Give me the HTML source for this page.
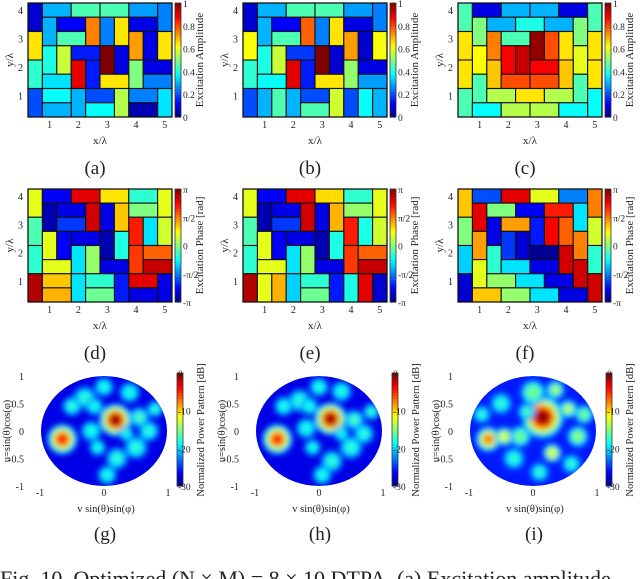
<!DOCTYPE html>
<html><head><meta charset="utf-8"><style>
html,body{margin:0;padding:0;background:#fff;width:640px;height:579px;overflow:hidden}
svg{display:block;font-family:"Liberation Serif",serif}
</style></head><body>
<svg id="fig" width="640" height="579" viewBox="0 0 640 579" xmlns="http://www.w3.org/2000/svg">
<defs><filter id="bl" x="-50%" y="-50%" width="200%" height="200%"><feGaussianBlur stdDeviation="3"/></filter></defs>
</svg>
<script>
// ---- data ----
const ampA=[[0,0,'v',0.08],[1,0,'h',0.3],[3,0,'h',0.45],[5,0,'h',0.45],[7,0,'h',0.28],[9,0,'v',0.25],
[1,1,'v',0.3],[2,1,'h',0.12],[4,1,'v',0.75],[5,1,'v',0.25],[6,1,'v',0.65],[7,1,'h',0.1],
[0,2,'v',0.65],[2,2,'h',0.45],[7,2,'v',0.72],[8,2,'v',0.1],[9,2,'v',0.65],
[1,3,'v',0.4],[2,3,'v',0.57],[3,3,'h',0.15],[5,3,'v',1.0],[6,3,'v',0.1],
[0,4,'v',0.42],[3,4,'v',0.9],[4,4,'v',0.15],[7,4,'v',0.5],[8,4,'h',0.1],
[1,5,'h',0.35],[5,5,'h',0.65],[8,5,'h',0.25],
[0,6,'v',0.2],[1,6,'h',0.38],[3,6,'v',0.3],[4,6,'h',0.2],[6,6,'v',0.55],[7,6,'h',0.25],[9,6,'v',0.35],
[1,7,'h',0.3],[4,7,'h',0.38],[7,7,'h',0.05]];
const ampB=[[0,0,'v',0.08],[1,0,'h',0.3],[3,0,'h',0.45],[5,0,'h',0.45],[7,0,'h',0.28],[9,0,'v',0.25],
[1,1,'v',0.3],[2,1,'h',0.12],[4,1,'v',0.78],[5,1,'v',0.25],[6,1,'v',0.65],[7,1,'h',0.1],
[0,2,'v',0.62],[2,2,'h',0.45],[7,2,'v',0.72],[8,2,'v',0.08],[9,2,'v',0.62],
[1,3,'v',0.4],[2,3,'v',0.57],[3,3,'h',0.18],[5,3,'v',1.0],[6,3,'v',0.08],
[0,4,'v',0.42],[3,4,'v',0.9],[4,4,'v',0.15],[7,4,'v',0.52],[8,4,'h',0.1],
[1,5,'h',0.38],[5,5,'h',0.65],[8,5,'h',0.28],
[0,6,'v',0.2],[1,6,'v',0.3],[2,6,'v',0.45],[3,6,'v',0.3],[4,6,'h',0.2],[4,7,'h',0.45],[6,6,'v',0.58],[7,6,'v',0.2],[8,6,'v',0.38],[9,6,'v',0.3]];
const ampC=[[0,0,'v',0.45],[1,0,'h',0.1],[3,0,'h',0.3],[5,0,'h',0.3],[7,0,'h',0.1],[9,0,'v',0.45],
[1,1,'v',0.5],[2,1,'h',0.3],[4,1,'h',0.4],[6,1,'h',0.3],[8,1,'v',0.5],
[0,2,'v',0.65],[2,2,'v',0.75],[3,2,'h',0.45],[5,2,'v',0.98],[6,2,'v',0.8],[7,2,'v',0.65],[9,2,'v',0.65],
[1,3,'v',0.62],[3,3,'v',0.88],[4,3,'v',0.93],[8,3,'v',0.6],
[0,4,'v',0.65],[2,4,'v',0.68],[5,4,'h',0.88],[7,4,'v',0.68],[9,4,'v',0.65],
[1,5,'v',0.45],[3,5,'h',0.8],[5,5,'h',0.8],[8,5,'v',0.45],
[0,6,'v',0.45],[2,6,'h',0.55],[4,6,'h',0.65],[6,6,'h',0.55],[9,6,'v',0.38],
[1,7,'h',0.38],[3,7,'h',0.55],[5,7,'h',0.55],[7,7,'h',0.38]];
const phD=[[0,0,'v',0.6],[1,0,'h',0.12],[3,0,'h',0.9],[5,0,'h',0.65],[7,0,'h',0.42],[9,0,'v',0.6],
[1,1,'v',0.05],[2,1,'h',0.1],[4,1,'v',0.92],[5,1,'v',0.1],[6,1,'v',0.68],[7,1,'h',0.5],
[0,2,'v',0.45],[2,2,'h',0.18],[7,2,'v',0.85],[8,2,'v',0.35],[9,2,'v',0.58],
[1,3,'v',0.6],[2,3,'v',0.12],[3,3,'h',0.1],[5,3,'v',0.05],[6,3,'v',0.4],
[0,4,'v',0.42],[3,4,'v',0.35],[4,4,'v',0.52],[7,4,'v',0.82],[8,4,'h',0.78],
[1,5,'h',0.6],[5,5,'h',0.1],[8,5,'h',0.93],
[0,6,'v',0.95],[1,6,'h',0.68],[3,6,'v',0.35],[4,6,'h',0.42],[6,6,'v',0.15],[7,6,'h',0.9],[9,6,'v',0.1],
[1,7,'h',0.7],[4,7,'h',0.48],[7,7,'h',0.1]];
const phE=[[0,0,'v',0.6],[1,0,'h',0.12],[3,0,'h',0.9],[5,0,'h',0.66],[7,0,'h',0.42],[9,0,'v',0.6],
[1,1,'v',0.05],[2,1,'h',0.1],[4,1,'v',0.92],[5,1,'v',0.1],[6,1,'v',0.7],[7,1,'h',0.52],
[0,2,'v',0.45],[2,2,'h',0.18],[7,2,'v',0.85],[8,2,'v',0.4],[9,2,'v',0.58],
[1,3,'v',0.6],[2,3,'v',0.12],[3,3,'h',0.1],[5,3,'v',0.05],[6,3,'v',0.4],
[0,4,'v',0.42],[3,4,'v',0.35],[4,4,'v',0.52],[7,4,'v',0.82],[8,4,'h',0.78],
[1,5,'h',0.6],[5,5,'h',0.1],[8,5,'h',0.93],
[0,6,'v',0.95],[1,6,'v',0.6],[2,6,'v',0.7],[3,6,'v',0.33],[4,6,'h',0.42],[4,7,'h',0.48],[6,6,'v',0.15],[7,6,'v',0.4],[8,6,'v',0.9],[9,6,'v',0.08]];
const phF=[[0,0,'v',0.68],[1,0,'h',0.2],[3,0,'h',0.9],[5,0,'h',0.6],[7,0,'h',0.25],[9,0,'v',0.75],
[1,1,'v',0.9],[2,1,'h',0.5],[4,1,'h',0.12],[6,1,'h',0.85],[8,1,'v',0.35],
[0,2,'v',0.5],[2,2,'v',0.1],[3,2,'h',0.72],[5,2,'v',0.15],[6,2,'v',0.88],[7,2,'v',0.78],[9,2,'v',0.58],
[1,3,'v',0.72],[3,3,'v',0.18],[4,3,'v',0.08],[8,3,'v',0.75],
[0,4,'v',0.33],[2,4,'v',0.42],[5,4,'h',0.02],[7,4,'v',0.92],[9,4,'v',0.42],
[1,5,'v',0.6],[3,5,'h',0.35],[5,5,'h',0.1],[8,5,'v',0.92],
[0,6,'v',0.08],[2,6,'h',0.52],[4,6,'h',0.35],[6,6,'h',0.1],[9,6,'v',0.92],
[1,7,'h',0.68],[3,7,'h',0.52],[5,7,'h',0.35],[7,7,'h',0.1]];
// pattern blobs: [v, u, radius, level(0..1 of colormap)]
const patG=[[0.18,0.2,0.26,0.97],[-0.65,-0.15,0.24,0.85],[-0.3,0.6,0.18,0.42],[0.55,0.25,0.16,0.45],[0.5,-0.3,0.18,0.42],[0.2,-0.5,0.17,0.42],[-0.2,0.0,0.16,0.4],[0.7,0.0,0.16,0.42],[-0.5,0.45,0.15,0.42],[0.4,0.7,0.16,0.4],[-0.1,-0.3,0.13,0.4],[0.8,0.4,0.13,0.42],[0.0,0.8,0.15,0.4],[0.05,-0.8,0.15,0.4],[-0.15,0.45,0.14,0.4],[0.35,-0.05,0.12,0.4]];
const patH=[[0.18,0.22,0.26,0.97],[-0.65,-0.15,0.24,0.85],[-0.3,0.55,0.18,0.42],[0.55,0.2,0.16,0.45],[0.5,-0.3,0.18,0.42],[0.2,-0.55,0.17,0.42],[-0.2,0.05,0.16,0.4],[0.7,-0.05,0.16,0.42],[-0.55,0.45,0.15,0.4],[0.35,0.72,0.16,0.4],[-0.1,-0.3,0.13,0.4],[0.82,0.35,0.13,0.42],[0.0,0.8,0.15,0.4],[0.05,-0.8,0.15,0.4],[-0.15,0.45,0.14,0.4],[0.35,-0.05,0.12,0.4]];
const patI=[[0.15,0.25,0.34,0.97],[-0.7,-0.15,0.2,0.78],[-0.45,-0.1,0.15,0.6],[0.55,0.4,0.15,0.58],[0.3,-0.4,0.15,0.6],[0.7,-0.1,0.17,0.52],[-0.2,-0.1,0.17,0.48],[0.0,0.7,0.2,0.48],[-0.5,0.5,0.17,0.42],[0.35,0.75,0.15,0.55],[-0.3,-0.5,0.17,0.42],[0.8,0.3,0.15,0.48],[0.1,-0.75,0.15,0.42],[-0.8,0.3,0.14,0.42],[0.6,-0.6,0.15,0.42],[-0.1,0.35,0.14,0.45]];
const xTicks=['1','2','3','4','5'];
const yTicks=['1','2','3','4'];
const ampTicks=['0','0.2','0.4','0.6','0.8','1'];
const phTicks=['-π','-π/2','0','π/2','π'];
const dbTicks=['-30','-20','-10','0'];
const uvTicks=['-1','0','1'];
const uTicks=['-1','-0.5','0','0.5','1'];
// ---- helpers ----
const NS='http://www.w3.org/2000/svg';
const svg=document.getElementById('fig');
function mk(tag,attrs,parent){const e=document.createElementNS(NS,tag);for(const k in attrs)e.setAttribute(k,attrs[k]);(parent||svg).appendChild(e);return e;}
function jet(t){t=Math.max(0,Math.min(1,t));const c=x=>Math.round(255*Math.max(0,Math.min(1,1.5-Math.abs(4*t-x))));return `rgb(${c(3)},${c(2)},${c(1)})`;}
function txt(x,y,s,size,name,anchor,rot){const e=mk('text',{x:x,y:y,'font-size':size,'text-anchor':anchor||'middle',fill:'#222'});if(rot)e.setAttribute('transform',`rotate(-90 ${x} ${y})`);e.textContent=s;


return e;}
function colorbar(x,y,h,w,pname){const g=mk('g',{});


const n=40;for(let i=0;i<n;i++){mk('rect',{x:x,y:y+h*(1-(i+1)/n),width:w,height:h/n+0.6,fill:jet((i+0.5)/n)},g);}
mk('rect',{x:x,y:y,width:w,height:h,fill:'none',stroke:'#333','stroke-width':0.8},g);}
const colX=[28,243,458];
function tilePanel(tiles,pi,y0,h,ticks,cblabel,name,cap){
  const x0=colX[pi],w=144,cw=w/10,ch=h/8;
  const sx=c=>x0+c*cw, sy=r=>y0+r*ch;
  const g=mk('g',{});
  
  
  tiles.forEach(t=>{const r=mk('rect',{x:sx(t[0]),y:sy(t[1]),width:(t[2]==='h'?2:1)*cw,height:(t[2]==='v'?2:1)*ch,fill:jet(t[3]),stroke:'#111','stroke-width':1.1},g);
    
    });
  mk('rect',{x:x0,y:y0,width:w,height:h,fill:'none',stroke:'#111','stroke-width':1.2},g);
  xTicks.forEach((s,i)=>{const k=i+1;txt(sx(2*k-0.5),y0+h+11,s,10,'x-tick-label');});
  yTicks.forEach((s,i)=>{const k=i+1;txt(x0-5,sy(8.5-2*k)+4,s,10,'y-tick-label','end');});
  txt(x0+w/2,y0+h+27,'x/λ',11,'x-axis-title');
  txt(x0-15,y0+h/2,'y/λ',11,'y-axis-title','middle',true);
  colorbar(x0+147,y0,h,6,name);
  ticks.forEach((s,i)=>txt(x0+155,y0+h*(1-i/(ticks.length-1))+4,s,9.5,'colorbar-tick','start'));
  txt(x0+175,y0+h/2,cblabel,11,'colorbar-title','middle',true);
  txt(x0+w/2-5,y0+h+57,cap,19,'panel-caption');
}
tilePanel(ampA,0,3,114,ampTicks,'Excitation Amplitude','panel-a','(a)');
tilePanel(ampB,1,3,114,ampTicks,'Excitation Amplitude','panel-b','(b)');
tilePanel(ampC,2,3,114,ampTicks,'Excitation Amplitude','panel-c','(c)');
tilePanel(phD,0,189,113,phTicks,'Excitation Phase [rad]','panel-d','(d)');
tilePanel(phE,1,189,113,phTicks,'Excitation Phase [rad]','panel-e','(e)');
tilePanel(phF,2,189,113,phTicks,'Excitation Phase [rad]','panel-f','(f)');
const cxs=[104,319,533];
function patPanel(blobs,pi,base,name,cap){
  const cx=cxs[pi],cy=431,rx=64,ry=55;
  const px=v=>cx+v*rx, py=u=>cy-u*ry;
  const cid='clip'+pi;
  const cp=mk('clipPath',{id:cid});mk('ellipse',{cx:cx,cy:cy,rx:rx-1,ry:ry},cp);
  const g=mk('g',{'clip-path':`url(#${cid})`});
  
  
  mk('ellipse',{cx:cx,cy:cy,rx:rx,ry:ry,fill:jet(base)},g);
  const bg=mk('g',{filter:'url(#bl)'},g);
  blobs.forEach(b=>{const levels=[0.25];for(let l=0.35;l<b[3];l+=0.12)levels.push(l);levels.push(b[3]);
    levels.forEach((l,k)=>{const f=1-k/(levels.length)*0.85;
      const c=mk('circle',{cx:px(b[0]),cy:py(b[1]),r:b[2]*rx*f,fill:jet(l)},bg);
      
      });});
  uvTicks.forEach((s,i)=>txt(px(i-1),cy+65,s,10,'x-tick-label'));
  uTicks.forEach((s,i)=>txt(cx-80,py(i*0.5-1)+4,s,10,'y-tick-label','end'));
  txt(cx+2,cy+81,'v  sin(θ)sin(φ)',10.5,'x-axis-title');
  txt(cx-94,cy,'u=sin(θ)cos(φ)',10.5,'y-axis-title','middle',true);
  const bx=cx+73;colorbar(bx,373,113,6,name);
  dbTicks.forEach((s,i)=>txt(bx+1,373+113*(1-i/3)+4,s,9.5,'colorbar-tick','start'));
  txt(bx+27,430,'Normalized Power Pattern [dB]',10.5,'colorbar-title','middle',true);
  txt(cx+1,540,cap,19,'panel-caption');
}
patPanel(patG,0,0.1,'panel-g','(g)');
patPanel(patH,1,0.1,'panel-h','(h)');
patPanel(patI,2,0.15,'panel-i','(i)');
txt(0,586,'Fig. 10.  Optimized (N × M) = 8 × 10 DTPA. (a) Excitation amplitude',22,'figure-caption','start');
</script>
</body></html>
